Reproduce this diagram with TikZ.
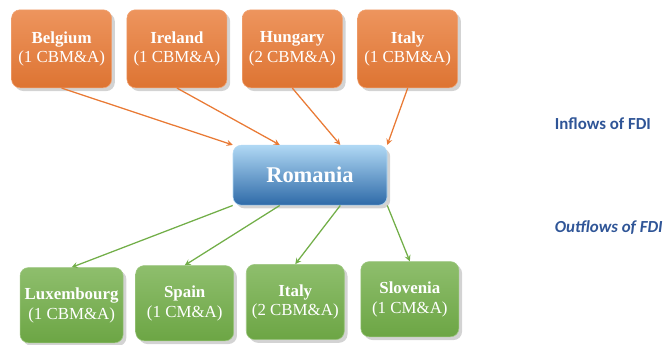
\documentclass[tikz,border=0pt]{standalone}
\usepackage{fontspec}
\setmainfont{Liberation Serif}
\newfontfamily\labfont{Carlito}
\usepackage{tikz}
\usetikzlibrary{arrows,positioning,shadows}

\definecolor{fdiorange}{HTML}{E97A35}
\definecolor{fdigreen}{HTML}{72AE48}
\definecolor{fdiblue}{HTML}{2F5597}
\definecolor{hubtop}{HTML}{B0D8F4}
\definecolor{hubmid}{HTML}{5B9BD5}
\definecolor{hubbot}{HTML}{2E6AA8}

\begin{document}
\begin{tikzpicture}[
  inbox/.style={rectangle, rounded corners=6pt,
                minimum width=2.5cm, minimum height=1.95cm,
                top color=fdiorange!80!white, bottom color=fdiorange!95!black,
                draw=fdiorange!70!white, text=white, align=center,
                font=\large, drop shadow={opacity=0.35}},
  outbox/.style={rectangle, rounded corners=6pt,
                minimum width=2.45cm, minimum height=1.88cm,
                top color=fdigreen!80!white, bottom color=fdigreen!95!black,
                draw=fdigreen!70!white, text=white, align=center,
                font=\large, drop shadow={opacity=0.35}},
  hubbox/.style={rectangle, rounded corners=6pt,
                minimum width=3.85cm, minimum height=1.5cm,
                top color=hubtop, middle color=hubmid, bottom color=hubbot,
                draw=hubtop, text=white,
                font=\fontsize{16}{19}\selectfont\bfseries, drop shadow={opacity=0.35}},
  flowlab/.style={text=fdiblue, font=\labfont\fontsize{12}{14}\selectfont\bfseries, anchor=west},
  inarr/.style={draw=fdiorange, line width=0.9pt, -stealth},
  outarr/.style={draw=fdigreen, line width=0.9pt, -stealth},
  node distance=0.37cm
]
\useasboundingbox (0,0) rectangle (16.625,-8.6);

% countries sending FDI
\node[inbox] (bel) at (1.54,-1.22) {\textbf{Belgium}\\(1 CBM\&A)};
\node[inbox, right=of bel] (ire) {\textbf{Ireland}\\(1 CBM\&A)};
\node[inbox, right=of ire] (hun) {\textbf{Hungary}\\(2 CBM\&A)};
\node[inbox, right=of hun] (ita) {\textbf{Italy}\\(1 CBM\&A)};

\node[hubbox] (rom) at (7.75,-4.38) {Romania};

% countries receiving FDI
\node[outbox] (lux) at (1.79,-7.63) {\textbf{Luxembourg}\\(1 CBM\&A)};
\node[outbox, right=0.3cm of lux, yshift=0.05cm] (spa) {\textbf{Spain}\\(1 CM\&A)};
\node[outbox, right=0.3cm of spa, yshift=0.03cm] (itb) {\textbf{Italy}\\(2 CBM\&A)};
\node[outbox, right=0.4cm of itb, yshift=0.07cm] (slo) {\textbf{Slovenia}\\(1 CM\&A)};

\node[flowlab] (lin) at (13.75,-3.08) {Inflows of FDI};
\node[flowlab, font=\labfont\fontsize{12}{14}\selectfont\bfseries\itshape] (lout) at (13.75,-5.7) {Outflows of FDI};

\draw[inarr] (bel.south) -- (rom.north west);
\draw[inarr] (ire.south) -- (rom.135);
\draw[inarr] (hun.south) -- (rom.45);
\draw[inarr] (ita.south) -- (rom.north east);

\draw[outarr] (rom.south west) -- (lux.north);
\draw[outarr] (rom.-135) -- (spa.north);
\draw[outarr] (rom.-45) -- (itb.north);
\draw[outarr] (rom.south east) -- (slo.north);
\end{tikzpicture}
\end{document}
